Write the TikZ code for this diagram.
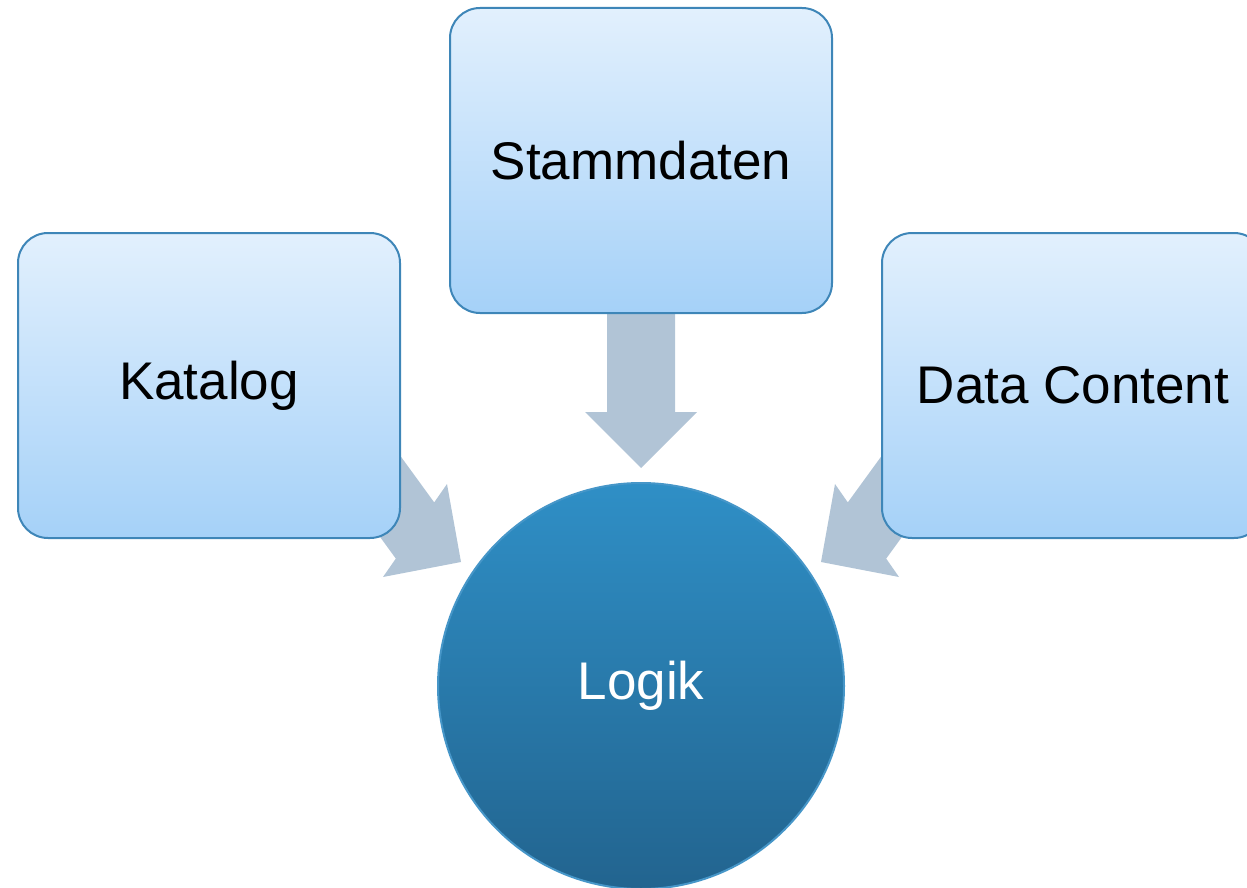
\documentclass[tikz,border=0pt]{standalone}
\usepackage{fontspec}
\setmainfont{Liberation Sans}
\usetikzlibrary{calc}
\definecolor{boxtop}{RGB}{226,240,253}
\definecolor{boxbot}{RGB}{165,209,248}
\definecolor{boxline}{RGB}{62,134,184}
\definecolor{circtop}{RGB}{47,143,198}
\definecolor{circbot}{RGB}{34,100,143}
\definecolor{circline}{RGB}{70,150,200}
\definecolor{arrowfill}{RGB}{177,196,214}
\tikzset{
  srcbox/.style={draw=boxline, line width=2pt, rounded corners=30pt,
    top color=boxtop, bottom color=boxbot,
    minimum width=382pt, minimum height=305pt, inner sep=0pt,
    font=\fontsize{53}{60}\selectfont, text=black},
  hubcircle/.style={circle, draw=circline, line width=2pt,
    top color=circtop, bottom color=circbot,
    minimum size=406pt, inner sep=0pt,
    font=\fontsize{53}{60}\selectfont, text=white},
  fatarrow/.style={fill=arrowfill, draw=none}
}
\begin{document}
\begin{tikzpicture}[x=1pt,y=-1pt]
\useasboundingbox (0,0) rectangle (1247,888);
\clip (0,0) rectangle (1247,888);
% arrows (drawn first, boxes cover their tails)
\fill[fatarrow] (607,300) -- (675,300) -- (675,412) -- (697,412) -- (641,468) -- (585,412) -- (607,412) -- cycle;
% left diagonal arrow: tip (461,562), dir (0.826,0.566), normal (-0.566,0.826)
\fill[fatarrow] (313.9,446.0) -- (352.3,389.8) -- (434.2,502.4) -- (447,484) -- (461,562) -- (383,577) -- (395.8,558.6) -- cycle;
% right diagonal arrow (mirror x' = 1282 - x)
\fill[fatarrow] (968.1,446.0) -- (929.7,389.8) -- (847.8,502.4) -- (835,484) -- (821,562) -- (899,577) -- (886.2,558.6) -- cycle;
% nodes
\node[srcbox] (stamm) at (641,160.5) {Stammdaten};
\node[srcbox] (katalog) at (209,385.5) {Katalog};
\node[srcbox] (data) at (1073,385.5) {Data Content};
\node[hubcircle] (logik) at (641,686) {Logik};
\end{tikzpicture}
\end{document}
